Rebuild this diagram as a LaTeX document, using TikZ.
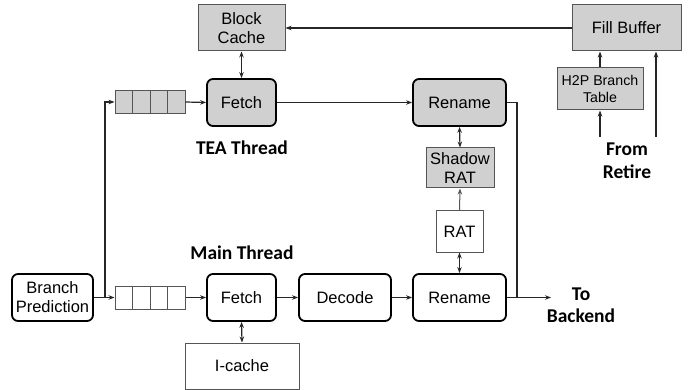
\documentclass[tikz,border=0pt]{standalone}
\usepackage{fontspec}
\setmainfont{Liberation Sans}
\newfontfamily\lblfont{Carlito}
\usetikzlibrary{arrows.meta}
\definecolor{boxgray}{RGB}{208,208,208}
\definecolor{edgegray}{RGB}{85,85,85}
\tikzset{
  tip/.style={-{Stealth[length=6pt,width=4.5pt]}},
  dtip/.style={{Stealth[length=6pt,width=4.5pt]}-{Stealth[length=6pt,width=4.5pt]}},
  stage/.style={draw=black, line width=1.8pt, rounded corners=6pt, align=center, font=\fontsize{16.5}{18.5}\selectfont, inner sep=0pt},
  plain/.style={draw=edgegray, line width=1pt, align=center, font=\fontsize{16.5}{18.5}\selectfont, inner sep=0pt},
  qcell/.style={draw=edgegray, line width=1pt, minimum width=17.5pt, minimum height=23pt, inner sep=0pt},
  lbl/.style={font=\lblfont\bfseries\fontsize{19.5}{22.5}\selectfont, align=center, inner sep=0pt},
  wire/.style={line width=1.2pt, draw=black!85}
}
\begin{document}
\begin{tikzpicture}[x=1pt,y=-1pt]
\useasboundingbox (0,0) rectangle (688,390);
% TEA thread
\node[plain, fill=boxgray, minimum width=87pt, minimum height=46pt] (bc) at (241.5,28) {Block\\Cache};
\node[plain, fill=boxgray, minimum width=109pt, minimum height=46pt] (fb) at (626.5,28) {Fill Buffer};
\node[plain, fill=boxgray, minimum width=86pt, minimum height=42pt, font=\fontsize{14.2}{17}\selectfont] (h2p) at (600,89) {H2P Branch\\Table};
\node[stage, fill=boxgray, minimum width=69pt, minimum height=47pt] (ft) at (241.5,102.5) {Fetch};
\node[stage, fill=boxgray, minimum width=93pt, minimum height=47pt] (rt) at (459.5,102.5) {Rename};
\node[plain, fill=boxgray, minimum width=68pt, minimum height=40pt] (sr) at (460,168) {Shadow\\RAT};
\node[plain, minimum width=47pt, minimum height=41pt] (rat) at (459.5,231.5) {RAT};
\node[qcell, fill=boxgray] (ta) at (123.75,102) {};
\node[qcell, fill=boxgray] (tb) at (141.25,102) {};
\node[qcell, fill=boxgray] (tc) at (158.75,102) {};
\node[qcell, fill=boxgray] (td) at (176.25,102) {};
\node[lbl] (teal) at (242,148) {TEA Thread};
\node[lbl] (retl) at (627,161) {From\\Retire};
% Main thread
\node[stage, minimum width=81pt, minimum height=47pt, font=\fontsize{16.5}{19}\selectfont] (bp) at (52.5,297.5) {Branch\\Prediction};
\node[qcell] (ma) at (123.75,297.5) {};
\node[qcell] (mb) at (141.25,297.5) {};
\node[qcell] (mc) at (158.75,297.5) {};
\node[qcell] (md) at (176.25,297.5) {};
\node[stage, minimum width=69pt, minimum height=47pt] (fm) at (241.5,297.5) {Fetch};
\node[stage, minimum width=92pt, minimum height=47pt] (dm) at (345,297.5) {Decode};
\node[stage, minimum width=93pt, minimum height=47pt] (rm) at (459.5,297.5) {Rename};
\node[plain, minimum width=114pt, minimum height=46pt] (ic) at (242,366) {I-cache};
\node[lbl] (mainl) at (242,253) {Main Thread};
\node[lbl] (bel) at (581,305) {To\\Backend};
% coordinates
\coordinate (br) at (105,297.5);
\coordinate (jn) at (517,297.5);
\coordinate (tob) at (551,297.5);
\coordinate (r1) at (600,137);
\coordinate (r2) at (656,137);
% connectors
\draw[wire, tip] (fb.west) -- (bc.east);
\draw[wire, dtip] (bc.south) -- (ft.north);
\draw[wire, tip] (td.east) -- (ft.west);
\draw[wire, tip] (ft.east) -- (rt.west);
\draw[wire, dtip] (rt.south) -- (sr.north);
\draw[wire, draw=edgegray, line width=1pt, tip] (rat.north) -- (sr.south);
\draw[wire, dtip] (rat.south) -- (rm.north);
\draw[wire] (rt.east) -| (jn);
\draw[wire, tip] (h2p.north) -- (h2p.north |- fb.south);
\draw[wire, tip] (r1) -- (h2p.south);
\draw[wire, tip] (r2) -- (r2 |- fb.south);
\draw[wire, tip] (bp.east) -- (ma.west);
\draw[wire, tip] (br) |- (ta.west);
\draw[wire, tip] (md.east) -- (fm.west);
\draw[wire, tip] (fm.east) -- (dm.west);
\draw[wire, tip] (dm.east) -- (rm.west);
\draw[wire, tip] (rm.east) -- (tob);
\draw[wire, dtip] (fm.south) -- (ic.north);
\end{tikzpicture}
\end{document}
